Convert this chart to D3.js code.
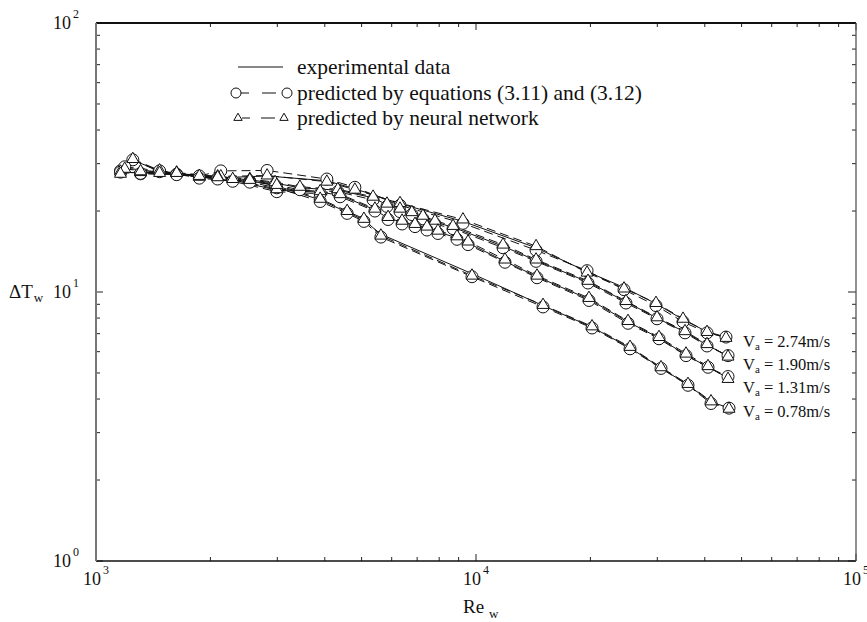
<!DOCTYPE html>
<html>
<head>
<meta charset="utf-8">
<script src="https://cdn.jsdelivr.net/npm/d3@7"></script>
<style>
  html, body { margin: 0; padding: 0; background: #fff; }
  svg { display: block; font-family: "Liberation Serif", "Times New Roman", serif; }
</style>
</head>
<body>
<svg id="chart" width="867" height="622"></svg>
<script>
// ---------------- DATA ----------------
const seriesNames = ["2.74", "1.90", "1.31", "0.78"];

// Va = 2.74 m/s
const reA   = [1250,1470,1870,2130,2820,4050,4800,6310,9240,14390,19600,24520,29760,35060,40550,45490];
const expA  = [30.9,28.2,26.9,26.6,27.0,25.9,24.2,21.3,18.3,14.6,11.9,10.4,9.05,7.9,7.12,6.8];
const eqA   = [31.0,28.0,27.0,28.2,28.3,26.3,24.5,21.0,18.0,14.3,12.0,10.2,8.9,7.75,7.05,6.8];
const nnA   = [31.2,28.3,26.8,26.9,27.1,25.7,24.0,21.4,18.6,14.8,11.8,10.3,9.1,7.95,7.1,6.75];

// Va = 1.90 m/s
const reB   = [1160,1310,1630,2090,2540,2960,3440,4330,5360,5830,6310,6780,7250,7800,8700,11780,14390,19710,24810,29950,35480,40550,46050];
const expB  = [27.9,27.7,27.6,26.8,26.1,25.4,24.4,23.9,22.4,21.1,20.2,19.7,19.0,18.2,17.4,14.8,13.1,10.9,9.2,8.0,7.1,6.35,5.78];
const eqB   = [28.2,27.5,27.4,26.5,25.8,25.0,24.0,23.6,22.0,20.8,19.9,19.4,18.7,17.9,17.2,14.6,13.0,10.8,9.1,7.95,7.05,6.3,5.8];
const nnB   = [28.0,27.9,27.8,26.9,26.3,25.6,24.6,24.1,22.6,21.3,20.4,19.8,19.2,18.4,17.6,15.0,13.2,11.0,9.25,8.05,7.15,6.4,5.75];

// Va = 1.31 m/s
const reC   = [1190,1470,1870,2290,2990,3890,4390,5420,5870,6390,6910,7430,7940,8910,9530,11920,14470,19830,25120,30310,35700,40790,46050];
const expC  = [28.9,27.9,26.8,26.1,23.9,23.5,22.9,20.2,18.8,18.2,17.7,17.3,16.7,15.9,15.2,13.0,11.4,9.4,7.74,6.75,5.83,5.26,4.79];
const eqC   = [29.2,28.2,26.5,25.8,23.6,23.2,22.6,20.0,18.6,17.9,17.5,17.0,16.5,15.7,15.0,12.9,11.3,9.3,7.65,6.7,5.8,5.25,4.85];
const nnC   = [28.7,27.7,27.0,26.3,24.1,23.7,23.1,20.4,19.0,18.4,17.9,17.5,16.9,16.1,15.4,13.2,11.5,9.5,7.8,6.8,5.9,5.3,4.75];

// Va = 0.78 m/s
const reD   = [1160,1310,1630,2090,2540,2990,3890,4580,5070,5620,9760,15010,20200,25430,30680,36130,41540,46330];
const expD  = [27.7,27.9,27.5,26.5,25.9,24.8,22.0,19.8,18.5,16.4,11.7,8.9,7.4,6.2,5.22,4.51,3.9,3.71];
const eqD   = [27.9,27.6,27.3,26.3,25.6,24.4,21.7,19.6,18.3,16.0,11.4,8.8,7.35,6.15,5.2,4.5,3.85,3.7];
const nnD   = [27.5,28.1,27.7,26.7,26.1,25.0,22.2,20.0,18.7,16.2,11.5,8.95,7.45,6.25,5.25,4.55,3.92,3.68];

const xTickValues = [1e3, 1e4, 1e5];
const xTickExp    = ["3", "4", "5"];
const yTickValues = [1, 10, 100];
const yTickExp    = ["0", "1", "2"];
const legendLabels = ["experimental data", "predicted by equations (3.11) and (3.12)", "predicted by neural network"];

// ---------------- CHART ----------------
const svg = d3.select("#chart");
const L = 96, R = 856, T = 23, B = 561;
const x = d3.scaleLog().domain([1e3, 1e5]).range([L, R]);
const y = d3.scaleLog().domain([1, 100]).range([B, T]);

const series = [
  {name: seriesNames[0], re: reA, exp: expA, eq: eqA, nn: nnA},
  {name: seriesNames[1], re: reB, exp: expB, eq: eqB, nn: nnB},
  {name: seriesNames[2], re: reC, exp: expC, eq: eqC, nn: nnC},
  {name: seriesNames[3], re: reD, exp: expD, eq: eqD, nn: nnD}
];

// minor ticks
const xMinor = [];
for (let d = 1e3; d < 1e5; d *= 10) for (let k = 2; k <= 9; k++) xMinor.push(d * k);
const yMinor = [];
for (let d = 1; d < 100; d *= 10) for (let k = 2; k <= 9; k++) yMinor.push(d * k);

const axes = svg.append("g").attr("stroke", "#222").attr("stroke-width", 1);
xMinor.forEach(v => {
  axes.append("line").attr("x1", x(v)).attr("x2", x(v)).attr("y1", B).attr("y2", B - 4);
  axes.append("line").attr("x1", x(v)).attr("x2", x(v)).attr("y1", T).attr("y2", T + 4);
});
xTickValues.forEach(v => {
  axes.append("line").attr("x1", x(v)).attr("x2", x(v)).attr("y1", B).attr("y2", B - 7);
  axes.append("line").attr("x1", x(v)).attr("x2", x(v)).attr("y1", T).attr("y2", T + 7);
});
yMinor.forEach(v => {
  axes.append("line").attr("y1", y(v)).attr("y2", y(v)).attr("x1", L).attr("x2", L + 4);
  axes.append("line").attr("y1", y(v)).attr("y2", y(v)).attr("x1", R).attr("x2", R - 4);
});
yTickValues.forEach(v => {
  axes.append("line").attr("y1", y(v)).attr("y2", y(v)).attr("x1", L).attr("x2", L + 7);
  axes.append("line").attr("y1", y(v)).attr("y2", y(v)).attr("x1", R).attr("x2", R - 8);
});

// frame
svg.append("line").attr("x1", L).attr("x2", R).attr("y1", T).attr("y2", T).attr("stroke", "#111").attr("stroke-width", 1.8);
svg.append("line").attr("x1", L).attr("x2", R).attr("y1", B).attr("y2", B).attr("stroke", "#111").attr("stroke-width", 1.6);
svg.append("line").attr("x1", R).attr("x2", R).attr("y1", T).attr("y2", B).attr("stroke", "#555").attr("stroke-width", 1.3);
svg.append("line").attr("x1", L).attr("x2", L).attr("y1", T).attr("y2", B).attr("stroke", "#777").attr("stroke-width", 2);

// tick labels
xTickValues.forEach((v, i) => {
  const t = svg.append("text").attr("x", x(v)).attr("y", 585).attr("text-anchor", "middle")
    .attr("font-size", 18).attr("fill", "#111");
  t.append("tspan").text("10");
  t.append("tspan").attr("dy", -11).attr("font-size", 12).attr("dx", 2).text(xTickExp[i]);
});
yTickValues.forEach((v, i) => {
  const t = svg.append("text").attr("x", 79).attr("y", y(v) + 6).attr("text-anchor", "end")
    .attr("font-size", 18).attr("fill", "#111");
  t.append("tspan").text("10");
  t.append("tspan").attr("dy", -11).attr("font-size", 12).attr("dx", 2).text(yTickExp[i]);
});

// axis titles
const yt = svg.append("text").attr("x", 9).attr("y", 298).attr("font-size", 19).attr("fill", "#111");
yt.append("tspan").text("ΔT");
yt.append("tspan").attr("dy", 4).attr("font-size", 13).attr("dx", 1).text("w");
const xt = svg.append("text").attr("x", 463).attr("y", 613).attr("font-size", 19).attr("fill", "#111");
xt.append("tspan").text("Re");
xt.append("tspan").attr("dy", 5).attr("font-size", 13).attr("dx", 5).text("w");

// lines
const line = key => d3.line().x(d => x(d.re)).y(d => y(d[key]));
const plot = svg.append("g");
series.forEach(s => {
  const pts = s.re.map((r, i) => ({re: r, exp: s.exp[i], eq: s.eq[i], nn: s.nn[i]}));
  s.pts = pts;
  plot.append("path").datum(pts).attr("d", line("exp")).attr("fill", "none").attr("stroke", "#111").attr("stroke-width", 1);
  plot.append("path").datum(pts).attr("d", line("eq")).attr("fill", "none").attr("stroke", "#111").attr("stroke-width", 1).attr("stroke-dasharray", "9,5");
  plot.append("path").datum(pts).attr("d", line("nn")).attr("fill", "none").attr("stroke", "#111").attr("stroke-width", 1).attr("stroke-dasharray", "9,5");
});
const tri = d3.symbol().type(d3.symbolTriangle).size(62);
series.forEach(s => {
  plot.selectAll(null).data(s.pts).enter().append("circle")
    .attr("cx", d => x(d.re)).attr("cy", d => y(d.eq)).attr("r", 6)
    .attr("fill", "#fff").attr("stroke", "#111").attr("stroke-width", 1);
});
series.forEach(s => {
  plot.selectAll(null).data(s.pts).enter().append("path")
    .attr("d", tri).attr("transform", d => `translate(${x(d.re)},${y(d.nn)})`)
    .attr("fill", "#fff").attr("stroke", "#111").attr("stroke-width", 1);
});

// series labels at right
const labelY = [347, 370, 393, 417];
series.forEach((s, i) => {
  const t = svg.append("text").attr("x", 743).attr("y", labelY[i]).attr("font-size", 16.5).attr("fill", "#111");
  t.append("tspan").text("V");
  t.append("tspan").attr("dy", 3).attr("font-size", 11).text("a");
  t.append("tspan").attr("dy", -3).text(" = " + s.name + "m/s");
});

// legend
const lg = svg.append("g");
lg.append("line").attr("x1", 238).attr("x2", 283).attr("y1", 67).attr("y2", 67).attr("stroke", "#111").attr("stroke-width", 1);
lg.append("line").attr("x1", 241).attr("x2", 282).attr("y1", 93).attr("y2", 93).attr("stroke", "#111").attr("stroke-width", 1).attr("stroke-dasharray", "8,13,14,10");
lg.append("circle").attr("cx", 236).attr("cy", 93).attr("r", 5).attr("fill", "#fff").attr("stroke", "#111");
lg.append("circle").attr("cx", 287).attr("cy", 93).attr("r", 5).attr("fill", "#fff").attr("stroke", "#111");
lg.append("line").attr("x1", 242).attr("x2", 279).attr("y1", 118).attr("y2", 118).attr("stroke", "#111").attr("stroke-width", 1).attr("stroke-dasharray", "8,11,14,10");
const triS = d3.symbol().type(d3.symbolTriangle).size(30);
lg.append("path").attr("d", triS).attr("transform", "translate(238,118)").attr("fill", "#fff").attr("stroke", "#111");
lg.append("path").attr("d", triS).attr("transform", "translate(284,118)").attr("fill", "#fff").attr("stroke", "#111");
[74, 100, 125].forEach((yy, i) => {
  lg.append("text").attr("x", 297).attr("y", yy).attr("font-size", 21.5).attr("fill", "#111").text(legendLabels[i]);
});
</script>
</body>
</html>
